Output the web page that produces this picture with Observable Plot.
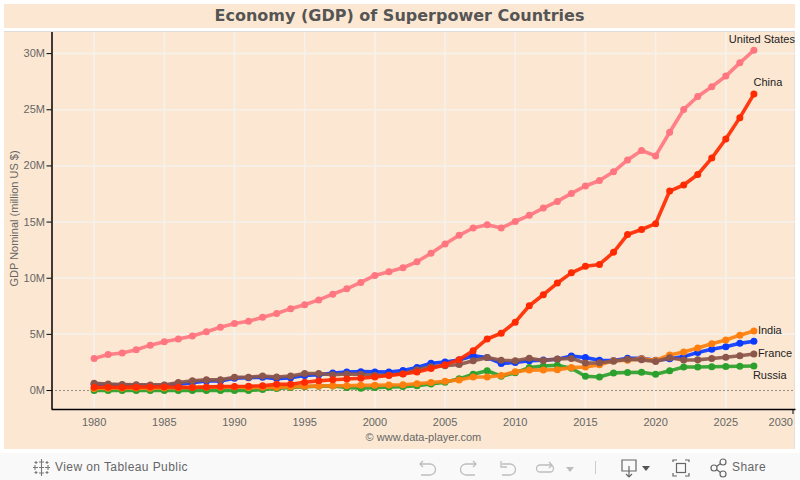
<!DOCTYPE html>
<html>
<head>
<meta charset="utf-8">
<script src="https://cdn.jsdelivr.net/npm/d3@7"></script>
<script src="https://cdn.jsdelivr.net/npm/@observablehq/plot@0.6"></script>
<style>
html,body{margin:0;padding:0;background:#fff;width:800px;height:480px;overflow:hidden;font-family:"Liberation Sans",Arial,sans-serif}
#title{position:absolute;left:4px;top:4px;width:791px;height:24px;background:#fce8d2;color:#555;font:bold 16px "DejaVu Sans",sans-serif;text-align:center;line-height:24px}
#band{position:absolute;left:4px;top:31px;width:790px;height:418px;background:#fce8d2;border-right:1px solid #e4e0da;box-sizing:content-box}
#topline{position:absolute;left:4px;top:31px;width:791px;height:1px;background:#dcdcdc}
#chart{position:absolute;left:0;top:31px;width:800px}
#bar{position:absolute;left:0;top:453px;width:800px;height:27px;background:#f9f9f9;color:#666;font-size:12px}
#bar span{position:absolute;top:7px;letter-spacing:.42px}
#bar svg{position:absolute;top:0;left:0}
</style>
</head>
<body>
<div id="title">Economy (GDP) of Superpower Countries</div>
<div id="band"></div>
<div id="chart"></div>
<div id="topline"></div>
<div id="bar">
<svg width="800" height="27" fill="none">
 <g stroke="#777" stroke-width="1.1">
  <path d="M41.500 6v6M39 9h5M41.500 17v6M39 20h5M35 12v5M33 14.500h5M48 12v5M45 14.500h5M41.500 12v5M39 14.500h5M36 8v3M34.500 9.500h3M47 8v3M45.500 9.500h3M36 18v3M34.500 19.500h3M47 18v3M45.500 19.500h3"/>
 </g>
 <g stroke="#bdbdbd" stroke-width="1.3">
  <path d="M423 8l-3 3 3 3M420 11h10a5.500 5.500 0 0 1 0 11h-9"/>
  <path d="M473 8l3 3-3 3M476 11h-10a5.500 5.500 0 0 0 0 11h9"/>
  <path d="M501 8v6h6M502 11h8a5.500 5.500 0 0 1 0 11h-8"/>
  <path d="M540 12h10a3 3 0 0 1 0 7h-10a3 3 0 0 1 0-7zM549 9l3 3-3 3"/>
 </g>
 <path d="M566 14h8l-4 5z" fill="#bdbdbd"/>
 <path d="M595.500 8v13" stroke="#ccc"/>
 <g stroke="#666" stroke-width="1.2">
  <path d="M622 7h14v11h-14zM629 13v11M626 21l3 3 3-3"/>
  <path d="M673 9v-2h4M685 7h4v2M689 20v3h-4M677 23h-4v-3" />
  <rect x="676.500" y="10.500" width="9" height="9"/>
  <circle cx="714" cy="15" r="3"/><circle cx="723" cy="9" r="3"/><circle cx="723" cy="21" r="3"/>
  <path d="M716.500 13.500l4-3M716.500 16.500l4 3"/>
 </g>
 <path d="M642 13h8l-4 5z" fill="#555"/>
</svg>
<span style="left:55px">View on Tableau Public</span>
<span style="left:732px">Share</span>
</div>
<script>
const years = d3.range(1980, 2028);
const unitedStates = [2.86,3.21,3.34,3.63,4.04,4.34,4.58,4.86,5.24,5.64,5.96,6.16,6.52,6.86,7.29,7.64,8.07,8.58,9.06,9.63,10.25,10.58,10.93,11.46,12.22,13.04,13.82,14.47,14.77,14.48,15.05,15.6,16.25,16.84,17.55,18.21,18.7,19.48,20.53,21.37,20.89,23.0,25.03,26.18,27.05,28.0,29.18,30.3];
const china = [0.3,0.29,0.28,0.3,0.31,0.31,0.3,0.27,0.31,0.35,0.36,0.38,0.43,0.55,0.56,0.73,0.86,0.96,1.03,1.09,1.21,1.34,1.47,1.66,1.96,2.29,2.75,3.55,4.59,5.1,6.09,7.55,8.53,9.57,10.48,11.06,11.23,12.31,13.89,14.34,14.86,17.76,18.3,19.24,20.7,22.4,24.3,26.4];
const india = [0.19,0.2,0.2,0.22,0.21,0.23,0.25,0.28,0.3,0.3,0.32,0.27,0.29,0.28,0.33,0.37,0.4,0.42,0.42,0.46,0.47,0.49,0.51,0.61,0.72,0.83,0.94,1.2,1.2,1.34,1.68,1.82,1.83,1.86,2.04,2.1,2.3,2.65,2.7,2.84,2.67,3.17,3.43,3.78,4.17,4.5,4.93,5.3];
const france = [0.65,0.57,0.54,0.52,0.5,0.5,0.71,0.86,0.95,0.95,1.18,1.18,1.3,1.2,1.3,1.51,1.51,1.4,1.47,1.45,1.36,1.38,1.5,1.84,2.12,2.2,2.32,2.66,2.93,2.7,2.65,2.87,2.68,2.81,2.86,2.44,2.47,2.6,2.79,2.73,2.58,2.91,2.72,2.73,2.85,2.96,3.1,3.26];
const russia = [0,0,0,0,0,0,0,0,0,0,0,0,0.09,0.18,0.28,0.34,0.39,0.4,0.27,0.2,0.26,0.31,0.35,0.43,0.59,0.74,1.04,1.45,1.76,1.27,1.58,2.04,2.18,2.25,1.98,1.27,1.2,1.57,1.6,1.63,1.45,1.75,2.1,2.1,2.12,2.14,2.16,2.18];
const unlabeledBlue = [0.56,0.52,0.49,0.46,0.44,0.47,0.56,0.7,0.85,0.85,1.09,1.14,1.18,1.06,1.14,1.34,1.4,1.55,1.65,1.68,1.66,1.64,1.78,2.06,2.42,2.54,2.71,3.09,2.93,2.41,2.49,2.66,2.71,2.78,3.07,2.93,2.69,2.68,2.88,2.86,2.7,2.82,3.02,3.38,3.68,3.9,4.2,4.39];
const xTicks = d3.range(1980, 2030, 5);
const yTicks = d3.range(0, 31, 5);

const ink = "#666", labelInk = "#222";
const series = [
  ["United States", unitedStates, "#ff7680"],
  ["Other", unlabeledBlue, "#0b3bff"],
  ["Russia", russia, "#2ca02c"],
  ["India", india, "#ff7f0e"],
  ["France", france, "#8c564b"],
  ["China", china, "#ff2a00"]
];
const rows = a => a.map((v, i) => ({year: years[i], value: v}));
const last = a => [{year: years[a.length - 1], value: a[a.length - 1]}];
const endLabel = (a, text, opts) => Plot.text(last(a), {x: "year", y: "value", text: [text], fill: labelInk, fontSize: 11, ...opts});

const plot = Plot.plot({
  width: 800, height: 418,
  marginLeft: 51.5, marginRight: 4.5, marginTop: 0, marginBottom: 40,
  style: {background: "transparent", fontFamily: "'Liberation Sans',Arial,sans-serif", fontSize: "11px"},
  x: {domain: [1977, 2030]},
  y: {domain: [-1.69, 31.97]},
  marks: [
    Plot.gridX(xTicks, {stroke: "#f5f2ee", strokeWidth: 1.5, strokeOpacity: 1}),
    Plot.gridY(yTicks.filter(d => d > 0), {stroke: "#f5f2ee", strokeWidth: 1.5, strokeOpacity: 1}),
    Plot.ruleY([0], {stroke: "#333", strokeDasharray: "1 3"}),
    Plot.ruleX([1977], {stroke: "#000", strokeWidth: 1.5}),
    Plot.ruleY([-1.69], {stroke: "#000", strokeWidth: 1.5}),
    Plot.axisY(yTicks, {tickFormat: d => d + "M", tickSize: 5, tickPadding: 2, stroke: "#000", fill: ink, label: null, fontSize: 11}),
    Plot.axisX(xTicks, {tickSize: 0, tickPadding: 9, fill: ink, label: null, tickFormat: d => String(d), fontSize: 11}),
    Plot.axisX([2030], {tickSize: 5, tickPadding: 4, stroke: "#000", fill: ink, label: null, tickFormat: d => String(d), textAnchor: "end", dx: -3, fontSize: 11}),
    Plot.text(["GDP Nominal (million US $)"], {frameAnchor: "left", textAnchor: "middle", rotate: -90, dx: -38, dy: -2, fill: ink, fontSize: 11}),
    Plot.text(["© www.data-player.com"], {x: () => 2003.46, frameAnchor: "bottom", dy: 31, fill: ink, fontSize: 11}),
    ...series.flatMap(([, values, color]) => [
      Plot.line(rows(values), {x: "year", y: "value", stroke: color, strokeWidth: 3.6, strokeOpacity: 0.92}),
      Plot.dot(rows(values), {x: "year", y: "value", fill: color, r: 3.5})
    ]),
    endLabel(unitedStates, "United States", {dx: 8, dy: -11}),
    endLabel(china, "China", {dx: 14, dy: -12}),
    endLabel(india, "India", {textAnchor: "start", dx: 4, dy: -0.5}),
    endLabel(france, "France", {textAnchor: "start", dx: 4}),
    endLabel(russia, "Russia", {textAnchor: "start", dx: -1, dy: 9})
  ]
});
document.getElementById("chart").append(plot);
</script>
</body>
</html>
